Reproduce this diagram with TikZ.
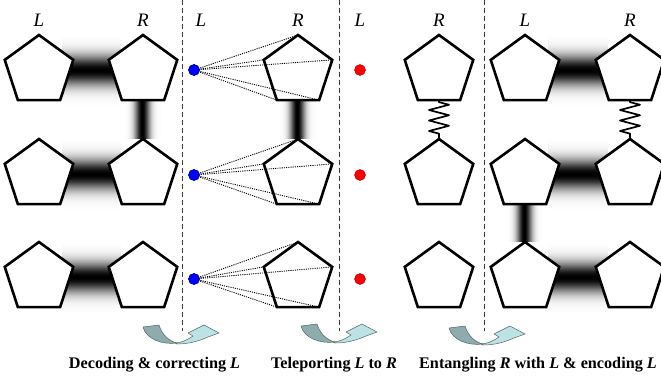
\documentclass[tikz,border=0pt]{standalone}
\usepackage{fontspec}
\setmainfont{Liberation Serif}
\usetikzlibrary{shapes.geometric,calc,decorations.pathmorphing}
\definecolor{arrdark}{HTML}{8EACAE}
\definecolor{arrlight}{HTML}{BDE2E5}
\definecolor{arredge}{HTML}{4F6666}
% horizontal bond between two centre coordinates
\newcommand\myhbond[2]{%
  \foreach \i in {-33,...,33}{%
    \pgfmathsetmacro\p{100*exp(-(\i/15)^2)}%
    \fill[black!\p] ($(#1)+(23,\i-0.6)$) rectangle ($(#2)+(-22,\i+0.6)$);%
  }}
% vertical bond between two centre coordinates
\newcommand\myvbond[2]{%
  \foreach \i in {-17,...,17}{%
    \pgfmathsetmacro\p{100*exp(-(\i/7.5)^2)}%
    \fill[black!\p] ($(#1)+(\i-0.6,28)$) rectangle ($(#2)+(\i+0.6,-36)$);%
  }}
\begin{document}
\begin{tikzpicture}[x=1pt,y=-1pt,
  pent/.style={regular polygon, regular polygon sides=5, minimum size=72pt, inner sep=0pt, outer sep=0pt, draw=black, line width=2.6pt, fill=white},
  lab/.style={font=\fontsize{19}{19}\selectfont\itshape, inner sep=0pt},
  captext/.style={font=\fontsize{16.2}{16}\selectfont\bfseries, inner sep=0pt},
  sepline/.style={dash pattern=on 5pt off 3pt, line width=1pt, draw=black!75},
  dotline/.style={dash pattern=on 1.1pt off 1.1pt, line width=0.9pt},
  bluedot/.style={circle, fill=blue, draw=blue!60!black, line width=0.4pt, minimum size=11pt, inner sep=0pt},
  reddot/.style={circle, fill=red, draw=red!60!black, line width=0.4pt, minimum size=11pt, inner sep=0pt},
  spring/.style={decorate, decoration={zigzag, segment length=10.5pt, amplitude=10pt, pre length=2pt, post length=2pt}, line width=1.7pt, line join=round},
  uturn/.pic={
    \path[fill=arrdark, draw=arredge, line width=0.5pt, line join=round]
      (-34,-17) -- (-18,-19) .. controls (-15,-9) and (-8,-3) .. (0,-1)
      .. controls (-15,1) and (-31,-5) .. cycle;
    \path[fill=arrlight, draw=arredge, line width=0.5pt, line join=round]
      (0,0) .. controls (12,0) and (22,-3) .. (31,-7) -- (42,-11) -- (27,-19) -- (11,-11) -- (16,-8)
      .. controls (10,-4) and (4,-1) .. (-2,-1) -- cycle;
  }
]
\useasboundingbox (0,0) rectangle (661,381);
\clip (0,0) rectangle (661,381);

% labels
\node[lab] (tL1) at (39,20) {L};
\node[lab] (tR1) at (143,20) {R};
\node[lab] (tL2) at (201,20) {L};
\node[lab] (tR2) at (298,20) {R};
\node[lab] (tL3) at (360,20) {L};
\node[lab] (tR3) at (439,20) {R};
\node[lab] (tL4) at (525,20) {L};
\node[lab] (tR4) at (630,20) {R};

% separators
\coordinate (s1a) at (182,0); \coordinate (s1b) at (182,331);
\coordinate (s2a) at (339,0); \coordinate (s2b) at (339,331);
\coordinate (s3a) at (484,0); \coordinate (s3b) at (484,331);
\draw[sepline] (s1a) -- (s1b);
\draw[sepline] (s2a) -- (s2b);
\draw[sepline] (s3a) -- (s3b);

% coordinates of pentagon centres
\foreach \r/\y in {1/71,2/175,3/278}{
  \coordinate (aL\r) at (39,\y);
  \coordinate (aR\r) at (143,\y);
  \coordinate (bP\r) at (298,\y);
  \coordinate (cR\r) at (439,\y);
  \coordinate (cL\r) at (525,\y);
  \coordinate (cQ\r) at (630,\y);
}

% bonds (behind pentagons)
\myhbond{aL1}{aR1}
\myhbond{aL2}{aR2}
\myhbond{aL3}{aR3}
\myhbond{cL1}{cQ1}
\myhbond{cL2}{cQ2}
\myhbond{cL3}{cQ3}
\myvbond{aR1}{aR2}
\myvbond{bP1}{bP2}
\myvbond{cL2}{cL3}

% pentagons
\foreach \r in {1,2,3}{
  \node[pent] (pL\r) at (aL\r) {};
  \node[pent] (pR\r) at (aR\r) {};
  \node[pent] (pM\r) at (bP\r) {};
  \node[pent] (qR\r) at (cR\r) {};
  \node[pent] (qL\r) at (cL\r) {};
  \node[pent] (qQ\r) at (cQ\r) {};
}

% springs
\draw[spring] (qR1.south) -- (qR2.corner 1);
\draw[spring] (qQ1.south) -- (qQ2.corner 1);

% dots and dotted lines
\foreach \r/\y in {1/70,2/175,3/279}{
  \node[bluedot] (bd\r) at (194,\y) {};
  \node[reddot] (rd\r) at (360,\y) {};
  \foreach \k in {1,...,5}{
    \draw[dotline] (bd\r.center) -- (pM\r.corner \k);
  }
  \node[bluedot] at (bd\r) {};
}

% curved arrows
\pic at (177,344) {uturn};
\pic at (335,343) {uturn};
\pic at (483,345) {uturn};

% captions
\node[captext] (c1) at (154.5,365) {Decoding \& correcting \textit{L}};
\node[captext] (c2) at (334,365) {Teleporting \textit{L} to \textit{R}};
\node[captext] (c3) at (538,365) {Entangling \textit{R} with \textit{L} \& encoding \textit{L}};
\end{tikzpicture}
\end{document}
